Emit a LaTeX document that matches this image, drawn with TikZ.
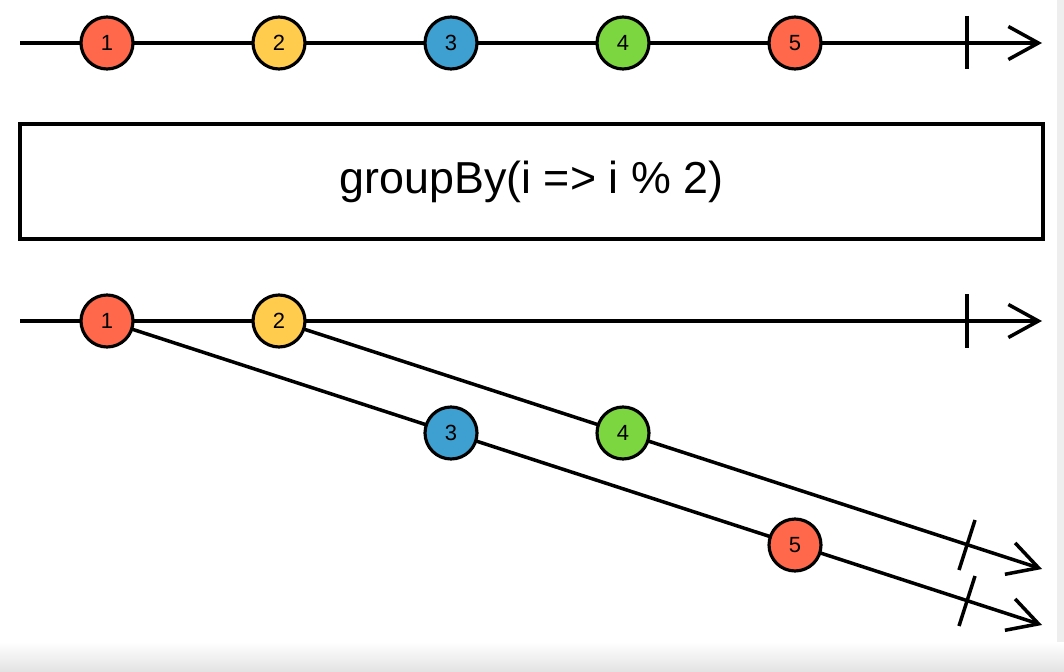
\documentclass[tikz,border=0pt]{standalone}
\usepackage{fontspec}
\setmainfont{Liberation Sans}
\usetikzlibrary{arrows.meta, positioning}
\definecolor{marblered}{RGB}{255,104,74}
\definecolor{marbleyellow}{RGB}{255,204,77}
\definecolor{marbleblue}{RGB}{62,160,208}
\definecolor{marblegreen}{RGB}{124,214,64}
\definecolor{framegray}{RGB}{226,226,226}
\pgfdeclarelayer{paper}
\pgfdeclarelayer{timeline}
\pgfsetlayers{paper,timeline,main}

\begin{document}
\begin{tikzpicture}[
        x=0.02cm, y=-0.02cm,
        marble/.style={circle, draw=black, line width=1.8pt, minimum size=1.04cm, inner sep=0pt, font=\fontsize{12.5}{12.5}\selectfont},
        timeline/.style={line width=2pt, -{Straight Barb[length=0.6cm, width=0.66cm]}},
        endtick/.style={line width=2pt},
        operator/.style={rectangle, draw=black, line width=2pt, minimum width=20.46cm, minimum height=2.3cm, inner sep=0pt, font=\fontsize{25.5}{25.5}\selectfont}
    ]
        % page
        \useasboundingbox (0,0) rectangle (1064,672);
        \begin{pgfonlayer}{paper}
            \fill[white] (0,0) rectangle (1064,672);
            \fill[framegray!60] (1057,0) rectangle (1064,672);
            \shade[top color=white, bottom color=framegray] (0,642) rectangle (1064,672);
        \end{pgfonlayer}

        % source stream
        \coordinate (src start) at (20,43);
        \coordinate (src end) at (1042,43);
        \node[marble, fill=marblered] (s1) at (107,43) {1};
        \node[marble, fill=marbleyellow] (s2) at (279,43) {2};
        \node[marble, fill=marbleblue] (s3) at (451,43) {3};
        \node[marble, fill=marblegreen] (s4) at (623,43) {4};
        \node[marble, fill=marblered] (s5) at (795,43) {5};
        \coordinate (src tick top) at (967,16);
        \coordinate (src tick bot) at (967,69);

        % operator
        \node[operator] (groupby) at (531.5,181.5) {\raisebox{-3pt}{groupBy(i => i \% 2)}};

        % grouped streams
        \coordinate (out start) at (20,321);
        \coordinate (out end) at (1042,321);
        \node[marble, fill=marblered] (o1) at (107,321) {1};
        \node[marble, fill=marbleyellow] (e2) at (279,321) {2};
        \node[marble, fill=marbleblue] (o3) at (451,433) {3};
        \node[marble, fill=marblegreen] (e4) at (623,433) {4};
        \node[marble, fill=marblered] (o5) at (795,545) {5};
        \coordinate (out tick top) at (967,294);
        \coordinate (out tick bot) at (967,348);
        \coordinate (even end) at (1042,569);
        \coordinate (even tick top) at (975,520);
        \coordinate (even tick bot) at (959,570);
        \coordinate (odd end) at (1042,625);
        \coordinate (odd tick top) at (975,576);
        \coordinate (odd tick bot) at (959,626);

        \begin{pgfonlayer}{timeline}
            \draw[timeline] (src start) -- (src end);
            \draw[timeline] (out start) -- (out end);
            \draw[timeline] (e2.center) -- (even end);
            \draw[timeline] (o1.center) -- (odd end);
        \end{pgfonlayer}

        \draw[endtick] (src tick top) -- (src tick bot);
        \draw[endtick] (out tick top) -- (out tick bot);
        \draw[endtick] (even tick top) -- (even tick bot);
        \draw[endtick] (odd tick top) -- (odd tick bot);
    \end{tikzpicture}
\end{document}
